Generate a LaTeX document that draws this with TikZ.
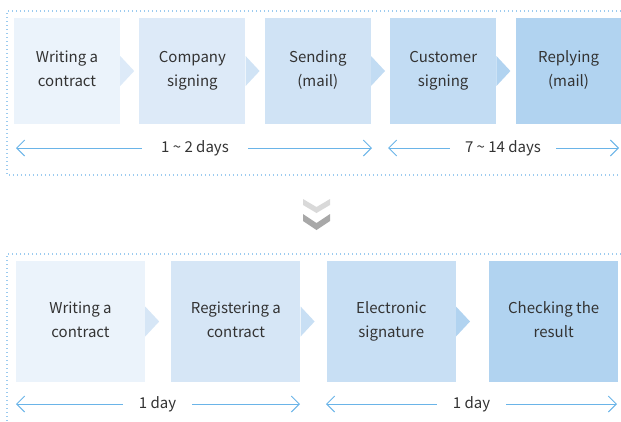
\documentclass[tikz,border=0pt]{standalone}
\usepackage{fontspec}
\setmainfont{Noto Sans CJK KR}
\usetikzlibrary{positioning, arrows.meta}
\definecolor{tintA}{HTML}{EBF3FB}
\definecolor{tintB}{HTML}{DDEAF8}
\definecolor{tintC}{HTML}{D0E3F5}
\definecolor{tintD}{HTML}{C2DCF3}
\definecolor{tintE}{HTML}{B1D3F0}
\definecolor{tintR}{HTML}{D6E6F6}
\definecolor{tintS}{HTML}{C8DFF4}
\definecolor{spanblue}{HTML}{6AB4E8}
\definecolor{dotblue}{HTML}{9CCBEF}
\definecolor{inkgray}{HTML}{333333}
\tikzset{
  x = 1pt, y = -1pt,
  stage/.style = {inner sep = 0, align = center, text = inkgray,
    font = \fontsize{15}{24}\selectfont,
    execute at begin node = \rule{0pt}{20pt},
    execute at end node = \rule[-4pt]{0pt}{4pt}},
  topstage/.style = {stage, minimum width = 106pt, minimum height = 106pt},
  lowstage/.style = {stage, minimum width = 129pt, minimum height = 121pt},
  frame/.style = {dotblue, line width = 1.3pt, dash pattern = on 1.3pt off 2.7pt},
  span/.style = {-{Straight Barb[length = 8pt, width = 16pt]}, spanblue, line width = 1pt},
  spanlabel/.style = {inner sep = 0, text = inkgray, font = \fontsize{15}{18}\selectfont}
}
\newcommand {\stagetip} [2] {
  \fill [#2] ([yshift = 15pt] #1.east) -- ([xshift = 14pt] #1.east)
    -- ([yshift = -15pt] #1.east) -- cycle;
}
\begin{document}
\begin{tikzpicture}
\useasboundingbox (0,0) rectangle (621,421);

%%% Paper contract
\draw [frame] (621,11) -- (7,11) -- (7,175) -- (621,175);

%% Stages
\node [topstage, fill = tintA] (pw) at (67,71) {Writing a\\contract};
\node [topstage, fill = tintB] (pc) [right = 19pt of pw] {Company\\signing};
\node [topstage, fill = tintC] (ps) [right = 19pt of pc] {Sending\\(mail)};
\node [topstage, fill = tintD] (pu) [right = 19pt of ps] {Customer\\signing};
\node [topstage, fill = tintE] (pr) [right = 19pt of pu] {Replying\\(mail)};

\stagetip{pw}{tintB}
\stagetip{pc}{tintC}
\stagetip{ps}{tintD}
\stagetip{pu}{tintE}

%% Durations
\node [spanlabel, minimum width = 106pt] (pd1) at (195,148) {1 \textasciitilde{} 2 days};
\coordinate (pd1w) at (16,148);
\coordinate (pd1e) at (372,148);
\draw [span] (pd1.west) -- (pd1w);
\draw [span] (pd1.east) -- (pd1e);

\node [spanlabel, minimum width = 106pt] (pd2) at (503,148) {7 \textasciitilde{} 14 days};
\coordinate (pd2w) at (388,148);
\coordinate (pd2e) at (619,148);
\draw [span] (pd2.west) -- (pd2w);
\draw [span] (pd2.east) -- (pd2e);

%%% Chevrons
\fill [black!15] (303,199) -- (316.5,207) -- (330,199) -- (330,205) -- (316.5,213) -- (303,205) -- cycle;
\fill [black!34] (303,214) -- (316.5,223) -- (330,214) -- (330,221) -- (316.5,230) -- (303,221) -- cycle;

%%% Electronic contract
\draw [frame] (621,254) -- (7,254) -- (7,421);

%% Stages
\node [lowstage, fill = tintA] (ew) at (80.5,321.5) {Writing a\\contract};
\node [lowstage, fill = tintR] (eg) [right = 26pt of ew] {Registering a\\contract};
\node [lowstage, fill = tintS] (es) [right = 26pt of eg] {Electronic\\signature};
\node [lowstage, fill = tintE] (ec) [right = 33pt of es] {Checking the\\result};

\stagetip{ew}{tintR}
\stagetip{eg}{tintS}
\stagetip{es}{tintE}

%% Durations
\node [spanlabel, minimum width = 69pt] (ed1) at (157.5,404) {1 day};
\coordinate (ed1w) at (16,404);
\coordinate (ed1e) at (300,404);
\draw [span] (ed1.west) -- (ed1w);
\draw [span] (ed1.east) -- (ed1e);

\node [spanlabel, minimum width = 69pt] (ed2) at (471.5,404) {1 day};
\coordinate (ed2w) at (326,404);
\coordinate (ed2e) at (617,404);
\draw [span] (ed2.west) -- (ed2w);
\draw [span] (ed2.east) -- (ed2e);

\end{tikzpicture}
\end{document}
